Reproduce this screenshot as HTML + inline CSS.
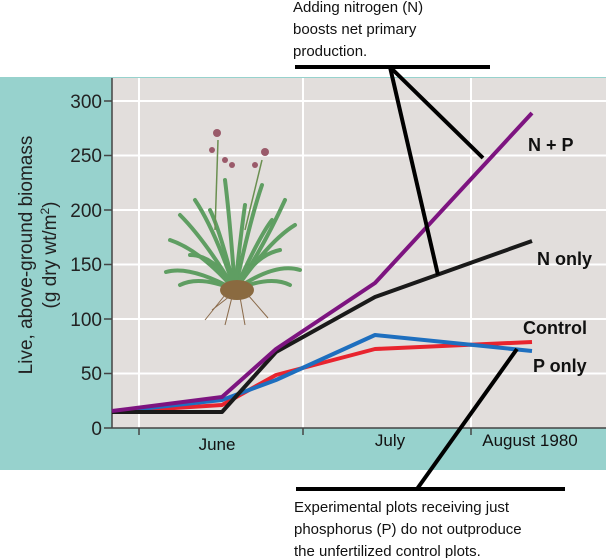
<!DOCTYPE html>
<html><head><meta charset="utf-8"><style>
body{margin:0;background:#fff}
svg{display:block;font-family:"Liberation Sans",Arial,sans-serif}
</style></head><body>
<svg width="606" height="558" viewBox="0 0 606 558">
<rect x="0" y="77" width="606" height="393" fill="#97d2cd"/>
<rect x="112" y="78" width="494" height="350" fill="#e2dedc"/>
<g stroke="#fff" stroke-width="2">
<line x1="112" y1="101" x2="606" y2="101"/>
<line x1="112" y1="155.5" x2="606" y2="155.5"/>
<line x1="112" y1="210" x2="606" y2="210"/>
<line x1="112" y1="264.5" x2="606" y2="264.5"/>
<line x1="112" y1="319" x2="606" y2="319"/>
<line x1="112" y1="373.5" x2="606" y2="373.5"/>
<line x1="139" y1="78" x2="139" y2="428"/>
<line x1="303" y1="78" x2="303" y2="428"/>
<line x1="471" y1="78" x2="471" y2="428"/>
</g>
<g stroke="#444" stroke-width="1.5">
<line x1="112" y1="78" x2="112" y2="428"/>
<line x1="112" y1="428" x2="606" y2="428"/>
<line x1="104" y1="101" x2="112" y2="101"/><line x1="104" y1="155.5" x2="112" y2="155.5"/>
<line x1="104" y1="210" x2="112" y2="210"/><line x1="104" y1="264.5" x2="112" y2="264.5"/>
<line x1="104" y1="319" x2="112" y2="319"/><line x1="104" y1="373.5" x2="112" y2="373.5"/>
<line x1="104" y1="428" x2="112" y2="428"/>
<line x1="139" y1="428" x2="139" y2="435"/><line x1="303" y1="428" x2="303" y2="435"/><line x1="471" y1="428" x2="471" y2="435"/>
</g>
<g font-size="19" fill="#222" text-anchor="end">
<text x="102" y="108">300</text><text x="102" y="162">250</text><text x="102" y="217">200</text>
<text x="102" y="271">150</text><text x="102" y="326">100</text><text x="102" y="380">50</text><text x="102" y="435">0</text>
</g>
<text transform="translate(32,255) rotate(-90)" font-size="19" fill="#222" text-anchor="middle">Live, above-ground biomass</text>
<text transform="translate(56,255) rotate(-90)" font-size="19" fill="#222" text-anchor="middle">(g dry wt/m<tspan font-size="12" dy="-7">2</tspan><tspan dy="7">)</tspan></text>
<g font-size="17" fill="#111" text-anchor="middle">
<text x="217" y="450">June</text><text x="390" y="446">July</text><text x="530" y="446">August 1980</text>
</g>
<!-- plant -->
<g stroke="#5f9e62" stroke-width="4" fill="none" stroke-linecap="round">
<path d="M235 290 Q200 250 170 240"/><path d="M235 290 Q190 265 166 272"/><path d="M235 290 Q215 230 195 200"/>
<path d="M235 290 Q230 220 225 180"/><path d="M235 290 Q250 220 262 185"/><path d="M235 290 Q270 240 295 225"/>
<path d="M235 290 Q275 262 300 270"/><path d="M235 290 Q205 240 180 215"/><path d="M235 290 Q262 250 285 200"/>
<path d="M235 290 Q215 255 190 255"/><path d="M235 290 Q255 255 280 250"/><path d="M235 290 Q240 240 245 205"/>
<path d="M235 290 Q220 230 210 210"/><path d="M235 290 Q260 235 272 220"/><path d="M235 290 Q200 275 180 285"/>
<path d="M235 290 Q270 275 290 285"/>
</g>
<g stroke="#6a8f50" stroke-width="1.5" fill="none">
<path d="M215 230 L218 140"/><path d="M245 230 L262 160"/>
</g>
<g fill="#9a5a6a"><circle cx="217" cy="133" r="4"/><circle cx="212" cy="150" r="3"/><circle cx="225" cy="160" r="3"/><circle cx="265" cy="152" r="4"/><circle cx="255" cy="165" r="3"/><circle cx="232" cy="165" r="3"/></g>
<ellipse cx="237" cy="290" rx="17" ry="10" fill="#8a6a40"/>
<g stroke="#8a6a4a" stroke-width="1" fill="none">
<path d="M225 295 L205 320"/><path d="M232 297 L225 325"/><path d="M240 297 L245 325"/><path d="M248 295 L268 318"/><path d="M230 296 L212 310"/>
</g>
<!-- series -->
<g fill="none" stroke-width="4" stroke-linejoin="round">
<polyline stroke="#e8242e" points="112,412 222,405 276,375 375,349 532,342"/>
<polyline stroke="#1e6fbf" points="112,412 222,400 276,380 375,335 532,351"/>
<polyline stroke="#1a1a1a" points="112,412 222,412 276,352 375,297 532,241"/>
<polyline stroke="#7d1480" points="112,411 222,397 276,349 375,283 532,113"/>
</g>
<g font-size="18" font-weight="bold" fill="#111">
<text x="528" y="151">N + P</text><text x="537" y="265">N only</text>
<text x="523" y="334">Control</text><text x="533" y="372">P only</text>
</g>
<!-- annotations -->
<g stroke="#000" stroke-width="4">
<line x1="295" y1="67" x2="490" y2="67"/>
<line x1="390" y1="67" x2="483" y2="158"/>
<line x1="390" y1="67" x2="438" y2="275"/>
<line x1="296" y1="489" x2="565" y2="489"/>
<line x1="417" y1="489" x2="517" y2="349"/>
</g>
<g font-size="15" fill="#111">
<text x="293" y="12">Adding nitrogen (N)</text>
<text x="293" y="34">boosts net primary</text>
<text x="293" y="56">production.</text>
<text x="294" y="512">Experimental plots receiving just</text>
<text x="294" y="534">phosphorus (P) do not outproduce</text>
<text x="294" y="556">the unfertilized control plots.</text>
</g>
</svg>
</body></html>
